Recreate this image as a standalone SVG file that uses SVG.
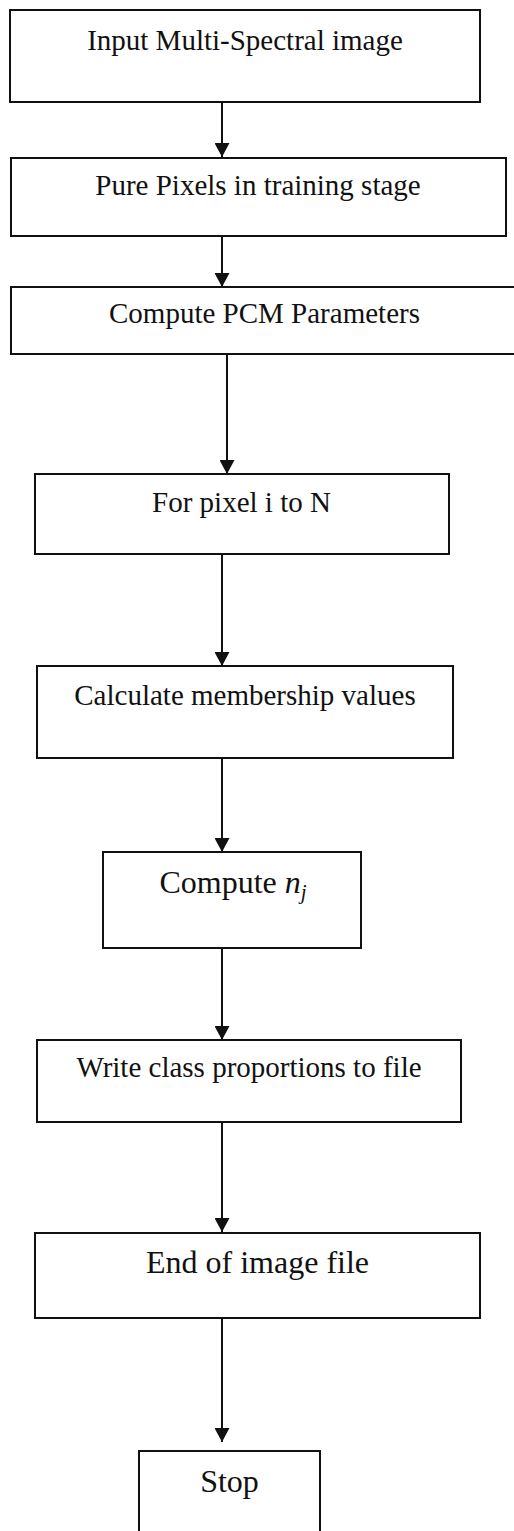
<svg xmlns="http://www.w3.org/2000/svg" width="514" height="1531" viewBox="0 0 514 1531">
  <style>
    .box { fill: #fff; stroke: #111; stroke-width: 2; }
    .lbl { font-family: "Liberation Serif", "Times New Roman", serif; font-size: 29px; fill: #111; text-anchor: middle; }
    .big { font-size: 32px; }
    .edge { stroke: #111; stroke-width: 2; fill: none; marker-end: url(#arrow); }
  </style>
  <defs>
    <marker id="arrow" markerUnits="userSpaceOnUse" markerWidth="16" markerHeight="15" refX="14" refY="7.5" orient="auto">
      <path d="M0,0 L14,7.5 L0,15 Z" fill="#111"/>
    </marker>
  </defs>
  <rect width="514" height="1531" fill="#fff"/>

  <!-- flow connectors -->
  <g id="connectors">
    <line class="edge" x1="222" y1="102" x2="222" y2="157"/>
    <line class="edge" x1="222" y1="236" x2="222" y2="287"/>
    <line class="edge" x1="227" y1="354" x2="227" y2="474"/>
    <line class="edge" x1="222" y1="554" x2="222" y2="666"/>
    <line class="edge" x1="222" y1="758" x2="222" y2="852"/>
    <line class="edge" x1="222" y1="948" x2="222" y2="1040"/>
    <line class="edge" x1="222" y1="1122" x2="222" y2="1232"/>
    <line class="edge" x1="222" y1="1318" x2="222" y2="1442"/>
  </g>

  <g id="input">
    <rect class="box" x="10" y="10" width="470" height="92"/>
    <text class="lbl" x="245" y="50">Input Multi-Spectral image</text>
  </g>

  <g id="pure-pixels">
    <rect class="box" x="11" y="158" width="495" height="78"/>
    <text class="lbl" x="258" y="195">Pure Pixels in training stage</text>
  </g>

  <g id="pcm-params">
    <rect class="box" x="11" y="287" width="508" height="67"/>
    <text class="lbl" x="264.5" y="323">Compute PCM Parameters</text>
  </g>

  <g id="pixel-loop">
    <rect class="box" x="35" y="474" width="414" height="80"/>
    <text class="lbl" x="241.5" y="512">For pixel i to N</text>
  </g>

  <g id="membership">
    <rect class="box" x="37" y="666" width="416" height="92"/>
    <text class="lbl" x="245" y="705">Calculate membership values</text>
  </g>

  <g id="compute-nj">
    <rect class="box" x="103" y="852" width="258" height="96"/>
    <text class="lbl big" x="233" y="893">Compute <tspan font-style="italic">n</tspan><tspan font-style="italic" font-size="21" dy="6">j</tspan></text>
  </g>

  <g id="write-proportions">
    <rect class="box" x="37" y="1040" width="424" height="82"/>
    <text class="lbl" x="249" y="1077">Write class proportions to file</text>
  </g>

  <g id="end-of-file">
    <rect class="box" x="35" y="1233" width="445" height="85"/>
    <text class="lbl big" x="257.5" y="1273">End of image file</text>
  </g>

  <g id="stop">
    <rect class="box" x="139" y="1451" width="181" height="90"/>
    <text class="lbl big" x="229.5" y="1492">Stop</text>
  </g>
</svg>
